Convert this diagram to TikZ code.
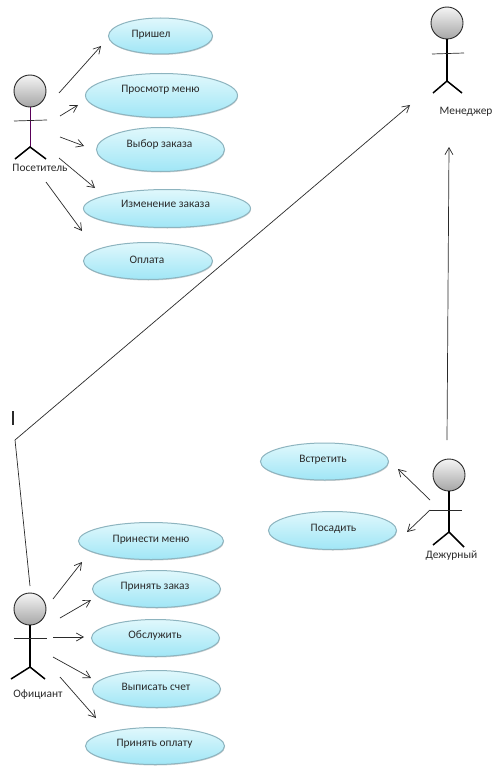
\documentclass[tikz,border=0pt]{standalone}
\usepackage{fontspec}
\setmainfont{Carlito}
\usetikzlibrary{arrows.meta,shapes.geometric,shadows}
\definecolor{usetop}{HTML}{E0F8FC}
\definecolor{usebot}{HTML}{A0E6F6}
\definecolor{useedge}{HTML}{8DB4BF}
\definecolor{ink}{HTML}{2A2A2A}
\tikzset{
 x=1pt,y=-1pt,
 usecase/.style={ellipse,draw=useedge,line width=1pt,top color=usetop,bottom color=usebot,inner sep=0pt,drop shadow={shadow xshift=0.5pt,shadow yshift=-1pt,opacity=.18,fill=black}},
 casetext/.style={text=ink,font=\fontsize{11.4}{13}\selectfont,inner sep=0pt},
 head/.style={circle,draw=ink,line width=.9pt,minimum size=32pt,inner sep=0pt,top color=white!92!gray,bottom color=black!35},
 limb/.style={line width=1.5pt,black},
 arm/.style={line width=.7pt,ink},
 actorname/.style={text=ink,font=\fontsize{11.4}{13}\selectfont,inner sep=0pt},
 flow/.style={line width=.7pt,ink,-{Straight Barb[length=7pt,width=8pt,line width=.7pt]}},
}
% name, x, y, width, height, text centre x, text centre y, text
\newcommand{\usecasenode}[8]{%
 \node[usecase,minimum width=#4pt,minimum height=#5pt] (#1) at (#2,#3) {};
 \node[casetext] (#1t) at (#6,#7) {#8};}
\newcommand{\actorfig}[9]{%
 \node[head] (#1head) at (#2) {};
 \coordinate (#1armL) at (#3);
 \coordinate (#1armR) at (#4);
 \coordinate (#1hip) at (#5);
 \coordinate (#1footL) at (#6);
 \coordinate (#1footR) at (#7);
 \draw[#9] (#1head.south) -- (#1hip);
 \draw[arm] (#1armL) -- (#1armR);
 \draw[limb] (#1footL) -- (#1hip) -- (#1footR);
 \node[actorname] (#1name) at (#8) {#1};
}
\begin{document}
\begin{tikzpicture}
\useasboundingbox (0,0) rectangle (496,773);
\fill[white] (0,0) rectangle (496,773);
% use cases
\usecasenode{a1}{160.5}{36}{104}{36}{151}{35}{Пришел}
\usecasenode{a2}{161.5}{95.5}{152}{44}{160.5}{90}{Просмотр меню}
\usecasenode{a3}{160.5}{149.5}{128}{44}{159.5}{145}{Выбор заказа}
\usecasenode{a4}{167}{208.5}{167}{38}{165.5}{204}{Изменение заказа}
\usecasenode{a5}{148}{261}{129}{37}{147}{260}{Оплата}
\usecasenode{b1}{151}{541}{145}{37}{151}{539.5}{Принести меню}
\usecasenode{b2}{156.5}{589}{128}{37}{155}{587}{Принять заказ}
\usecasenode{b3}{155.5}{638}{128}{37}{155}{636}{Обслужить}
\usecasenode{b4}{156.5}{689}{128}{37}{156}{687}{Выписать счет}
\usecasenode{b5}{155}{746}{139}{37}{154.5}{744}{Принять оплату}
\usecasenode{c1}{324.5}{461.5}{128}{37}{323}{459.5}{Встретить}
\usecasenode{c2}{332.5}{530.5}{128}{38}{333.5}{528.5}{Посадить}
% actors
\actorfig{Посетитель}{30,91}{14,121}{47,120}{30,147}{15,159}{46,159}{40,168}{line width=.8pt,violet!70!black}
\actorfig{Официант}{30,609}{14,638}{47,638}{30,667}{11,679}{45,679}{38,695}{limb}
\actorfig{Дежурный}{449,475}{430,510}{462,510}{449,532}{433,545}{464,547}{451.5,556}{limb}
\actorfig{Менеджер}{447,23}{432,54}{464,53}{447,81}{433,93}{462,93}{466,112}{limb}
% free ends of the connectors
\foreach \n/\p in {p1s/{59,93},p1e/{101,46},p2s/{60,116},p2e/{78,105},p3s/{60,137},p3e/{84,146},p4s/{59,158},p4e/{95,188},p5s/{46,182},p5e/{82,231},
 o1s/{53,599},o1e/{82,562},o2s/{60,618},o2e/{91,600},o3s/{53,637},o3e/{84,637},o4s/{53,657},o4e/{91,678},o5s/{60,677},o5e/{96,718},
 d1s/{430,500},d1e/{398,469},d2e/{407,532},d3s/{447,440},d3e/{449,147},
 ms/{30,586},mk/{15,440},me/{410,105},cur1/{13,411},cur2/{13,425}}
 {\coordinate (\n) at (\p);}
\foreach \i in {1,...,5} {\draw[flow] (p\i s) -- (p\i e); \draw[flow] (o\i s) -- (o\i e);}
\draw[flow] (d1s) -- (d1e);
\draw[flow] (ДежурныйarmL) -- (d2e);
\draw[flow] (d3s) -- (d3e);
\draw[flow] (ms) -- (mk) -- (me);
\draw[line width=1.5pt,ink] (cur1) -- (cur2);
\end{tikzpicture}
\end{document}
